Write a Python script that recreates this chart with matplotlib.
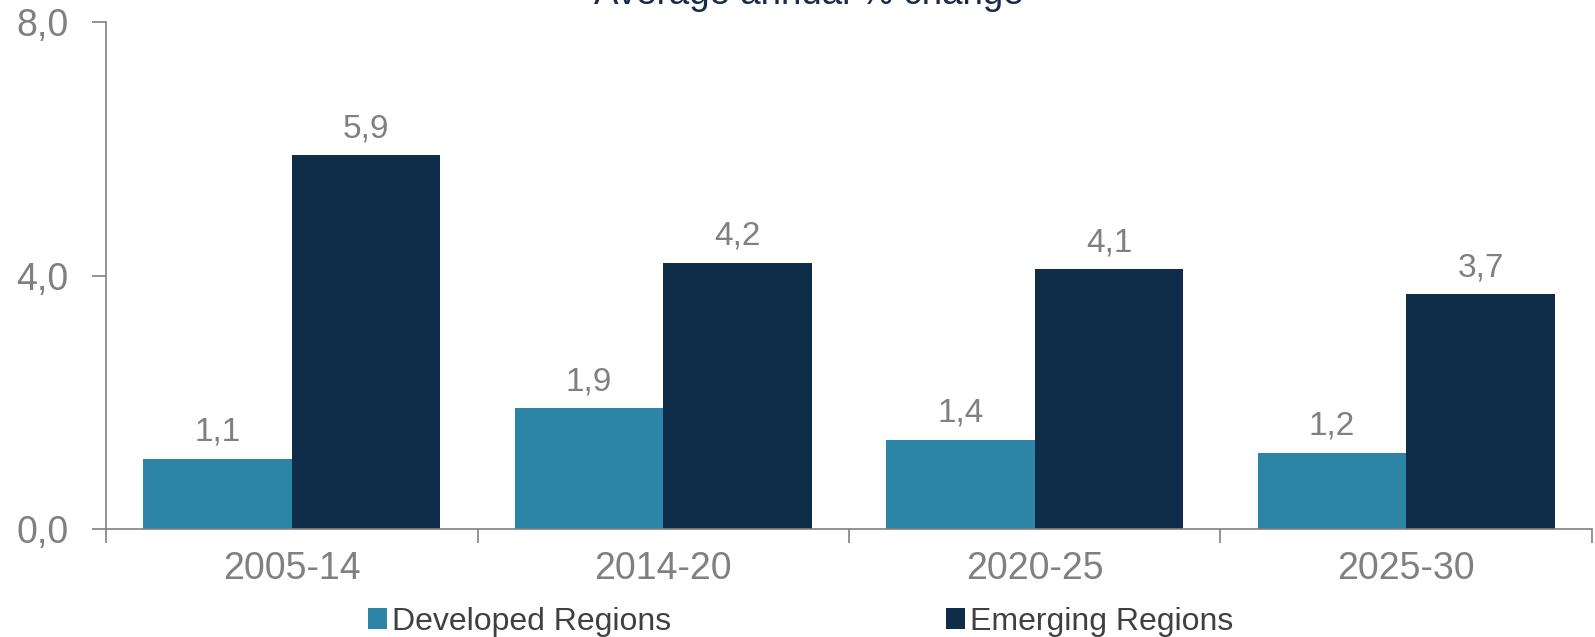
import matplotlib.pyplot as plt
import numpy as np

plt.rcParams['font.family'] = ['Liberation Sans', 'DejaVu Sans']

periods = ["2005-14", "2014-20", "2020-25", "2025-30"]
developed = [1.1, 1.9, 1.4, 1.2]
emerging = [5.9, 4.2, 4.1, 3.7]

c_dev = "#2C85A6"
c_emg = "#0F2C48"
grey = "#808080"

fig = plt.figure(figsize=(15.95, 6.37), dpi=100)
ax = fig.add_axes([0.0665, 0.170, 0.9315, 0.795])

x = np.arange(len(periods))
w = 0.4
b1 = ax.bar(x - w / 2, developed, w, color=c_dev, label="Developed Regions")
b2 = ax.bar(x + w / 2, emerging, w, color=c_emg, label="Emerging Regions")

for bars, vals in [(b1, developed), (b2, emerging)]:
    for r, v in zip(bars, vals):
        ax.annotate(("%.1f" % v).replace(".", ","), (r.get_x() + r.get_width() / 2, v),
                    xytext=(0, 8), textcoords="offset points",
                    ha="center", va="bottom", fontsize=24, color=grey)

ax.set_xlim(-0.5, 3.5)
ax.set_ylim(0, 8)
ax.set_yticks([0, 4, 8])
ax.set_yticklabels(["0,0", "4,0", "8,0"])
ax.set_xticks(x)
ax.set_xticklabels(periods)
ax.set_xticks(np.arange(-0.5, 4.0, 1.0), minor=True)
ax.tick_params(axis="x", which="major", length=0, pad=16, labelsize=27, labelcolor=grey)
ax.tick_params(axis="x", which="minor", length=10, width=1.2, color=grey, direction="out")
ax.tick_params(axis="y", length=10, width=1.2, color=grey, pad=17, labelsize=27, labelcolor=grey)

for s in ["top", "right"]:
    ax.spines[s].set_visible(False)
for s in ["left", "bottom"]:
    ax.spines[s].set_color(grey)
    ax.spines[s].set_linewidth(1.2)

fig.legend(handles=[b1, b2], loc="center", bbox_to_anchor=(0.502, 0.024), ncol=2, frameon=False,
           fontsize=23, labelcolor="#404040", handlelength=0.6, handleheight=0.6,
           handletextpad=0.15, columnspacing=8.6, borderpad=0)

fig.text(0.507, 0.994, "Average annual % change", ha="center", va="baseline",
         fontsize=26.5, color="#1B2A4A")

fig.savefig("out.png", dpi=100)
